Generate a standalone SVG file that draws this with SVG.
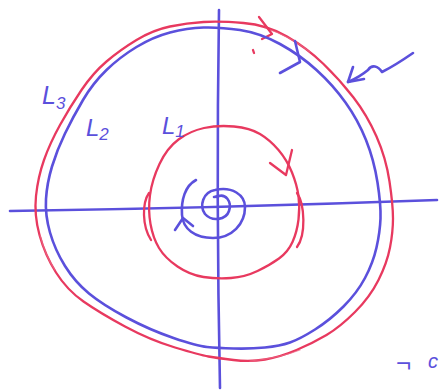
<svg xmlns="http://www.w3.org/2000/svg" width="443" height="392" viewBox="0 0 443 392">
<style>
.b{fill:none;stroke:#5b50dc;stroke-width:2.6;stroke-linecap:round;stroke-linejoin:round}
.r{fill:none;stroke:#e8395f;stroke-width:2.3;stroke-linecap:round;stroke-linejoin:round}
.rt{fill:none;stroke:#ee6a86;stroke-width:1.2;stroke-linecap:round;opacity:0.7}
.lbl{font-family:"Liberation Sans","DejaVu Sans",sans-serif;fill:#5b50dc;font-style:italic}
</style>
<rect width="443" height="392" fill="#ffffff"/>
<g id="axes">
<path class="b" d="M219,10 Q216,200 220,388" stroke-width="2.2"/>
<path class="b" d="M10,211 Q220,208 437,200" stroke-width="2.2"/>
</g>
<g id="L3">
<path class="r" d="M243.5,23 Q267,25 287,36.5 Q307,48 323.5,64 Q340,80 353.5,97.5 Q367,115 376.5,136.5 Q386,158 389.5,181.5 Q393,205 393,218.5 Q393,232 390,247.5 Q387,263 378.5,280 Q370,297 355,312 Q340,327 326.5,335 Q313,343 296.5,350 Q280,357 265,359.5 Q250,362 233.5,360 Q217,358 208.5,356.5 Q200,355 175,347.5 Q150,340 125,326.5 Q100,313 83.5,301.5 Q67,290 56,272.5 Q45,255 39.5,235 Q34,215 36,196 Q38,177 44,160 Q50,143 60,125 Q70,107 81.5,90 Q93,73 106.5,61.5 Q120,50 136.5,40 Q153,30 170,26.5 Q187,23 203.5,22 Q220,21 243.5,23 Z"/>
<path class="rt" d="M265,28 Q290,36 310,52 M250,361 Q280,358 300,350 M55,270 Q45,255 40,235"/>
<path class="r" d="M259,17 L272,34 L262,39"/>
<path class="r" d="M253,50 L254,53" stroke-width="2"/>
</g>
<g id="L2">
<path class="b" d="M240,30 Q260,33 280,44 Q300,55 316.5,70 Q333,85 345.5,102.5 Q358,120 366,140 Q374,160 377.5,182.5 Q381,205 380.5,218.5 Q380,232 376.5,247.5 Q373,263 365,278 Q357,293 343.5,306.5 Q330,320 315,329.5 Q300,339 290,342.5 Q280,346 265,347.5 Q250,349 233.5,348.5 Q217,348 207,347 Q197,346 173.5,338 Q150,330 126.5,317.5 Q103,305 89,293.5 Q75,282 65,266 Q55,250 50,232.5 Q45,215 46,199 Q47,183 52,166.5 Q57,150 65,133.5 Q73,117 83,100 Q93,83 106.5,70 Q120,57 136.5,47 Q153,37 170,32.5 Q187,28 203.5,27.5 Q220,27 240,30 Z"/>
<path class="b" d="M295,41 L300,62 L280,73"/>
</g>
<g id="L1">
<path class="r" d="M234,126.5 Q250,128 260,134 Q270,140 278.5,150 Q287,160 292,172.5 Q297,185 298.5,196 Q300,207 298.5,219.5 Q297,232 292.5,242 Q288,252 279,258.5 Q270,265 257.5,271 Q245,277 231,278 Q217,279 203.5,277 Q190,275 177.5,266.5 Q165,258 159,248 Q153,238 150.5,224 Q148,210 150,195 Q152,180 159.5,164 Q167,148 178.5,139.5 Q190,131 204,128 Q218,125 234,126.5 Z"/>
<path class="r" d="M297,193 C305,205 306,235 297,247" stroke-width="1.8"/>
<path class="r" d="M149,193 C142,203 142,226 151,240" stroke-width="1.6"/>
<path class="r" d="M270,163 L286,175 L292,150"/>
</g>
<g id="spiral">
<path class="b" d="M214,197 L219,196"/>
<path class="b" d="M216,197 C226,192 232,202 229,211 C226,220 212,222 205,214 C199,206 203,192 215,190 C232,186 245,195 245,207 C245,224 232,238 213,238 C195,238 183,229 182,215 C181,200 185,186 196,180"/>
<path class="b" d="M175,230 L183,218 L193,226"/>
</g>
<g id="connectors">
<path class="b" d="M413,53 C400,62 390,68 382,72 C378,66 372,64 368,70 C362,75 355,79 348,82"/>
<path class="b" d="M353,67 L348,82 L364,79"/>
</g>
<g id="labels">
<text class="lbl" x="42" y="104" font-size="25">L<tspan font-size="17" dy="5">3</tspan></text>
<text class="lbl" x="86" y="136" font-size="24">L<tspan font-size="17" dy="4">2</tspan></text>
<text class="lbl" x="162" y="134" font-size="24">L<tspan font-size="17" dy="3">1</tspan></text>
<text class="lbl" x="396" y="372" font-size="26" font-style="normal">¬</text>
<text class="lbl" x="428" y="368" font-size="20" font-style="normal">c</text>
</g>
</svg>
